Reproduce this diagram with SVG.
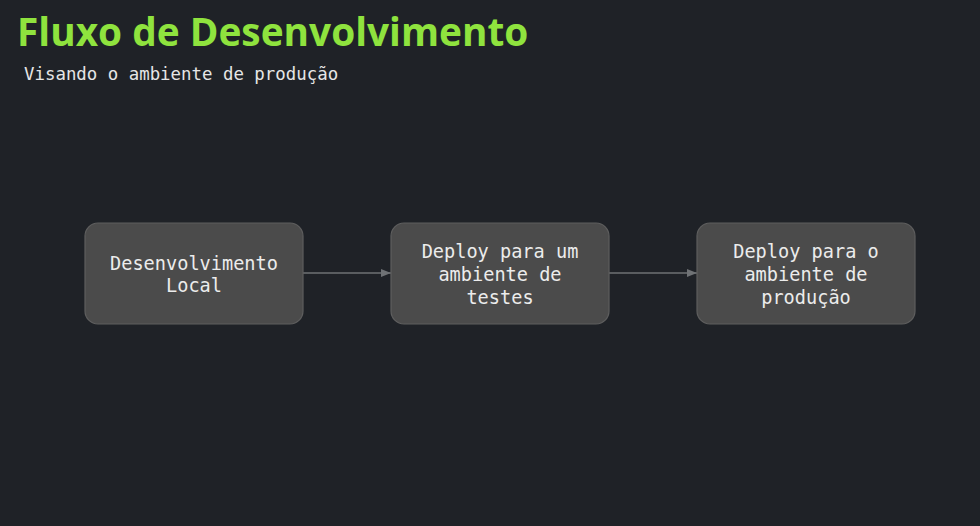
<svg xmlns="http://www.w3.org/2000/svg" width="980" height="526" viewBox="0 0 980 526">
<defs>
<style>
.node rect{fill:#4b4b4b;stroke:#5e5e5e;stroke-width:1.2}
.node text{font-family:"DejaVu Sans Mono","Liberation Mono",monospace;font-size:18.6px;fill:#ececec;text-anchor:middle}
.edge{stroke:#6f7275;stroke-width:1.3;fill:none}
</style>
<marker id="arr" viewBox="0 0 10 10" refX="10" refY="5" markerWidth="10" markerHeight="10" markerUnits="userSpaceOnUse" orient="auto">
<path d="M0,1 L10,5 L0,9 z" fill="#6f7275"/>
</marker>
</defs>
<rect width="980" height="526" fill="#1f2227"/>
<text x="17" y="46" font-family="Open Sans, sans-serif" font-weight="700" font-size="38.8" fill="#8fe33e">Fluxo de Desenvolvimento</text>
<text x="24" y="80" font-family="DejaVu Sans Mono, monospace" font-size="17.4" fill="#e6e6e6">Visando o ambiente de produção</text>
<g id="connectors">
<line class="edge" x1="303" y1="273" x2="391" y2="273" marker-end="url(#arr)"/>
<line class="edge" x1="609" y1="273" x2="697" y2="273" marker-end="url(#arr)"/>
</g>
<g id="node1" class="node">
<rect x="85" y="223" width="218" height="101" rx="13"/>
<text x="194" y="270">Desenvolvimento</text>
<text x="194" y="292">Local</text>
</g>
<g id="node2" class="node">
<rect x="391" y="223" width="218" height="101" rx="13"/>
<text x="500" y="258">Deploy para um</text>
<text x="500" y="281">ambiente de</text>
<text x="500" y="304">testes</text>
</g>
<g id="node3" class="node">
<rect x="697" y="223" width="218" height="101" rx="13"/>
<text x="806" y="258">Deploy para o</text>
<text x="806" y="281">ambiente de</text>
<text x="806" y="304">produção</text>
</g>
</svg>
